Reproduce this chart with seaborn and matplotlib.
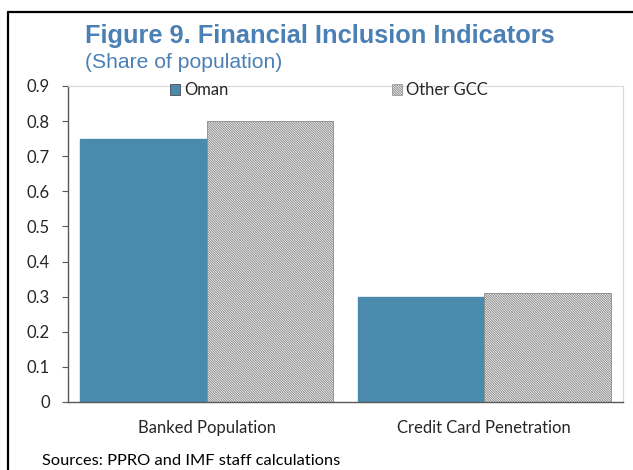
import matplotlib
matplotlib.use("Agg")
import matplotlib.pyplot as plt
import pandas as pd
import seaborn as sns
from matplotlib.lines import Line2D
from matplotlib.patches import Patch

categories = ["Banked Population", "Credit Card Penetration"]
series = ["Oman", "Other GCC"]
oman_values = [0.75, 0.30]
other_gcc_values = [0.80, 0.31]
y_ticks = [0, 0.1, 0.2, 0.3, 0.4, 0.5, 0.6, 0.7, 0.8, 0.9]

OMAN_COLOR = "#4A8BAD"
TITLE_COLOR = "#4A80B4"
HATCH = "\\" * 14

df = pd.DataFrame({
    "category": categories * 2,
    "series": [series[0]] * 2 + [series[1]] * 2,
    "value": oman_values + other_gcc_values,
})

sns.set_style("white")
plt.rcParams["font.family"] = ["Lato", "DejaVu Sans"]
plt.rcParams["hatch.color"] = "#909090"
plt.rcParams["hatch.linewidth"] = 0.7

fig = plt.figure(figsize=(6.33, 4.70), dpi=100)
ax = fig.add_axes([68 / 633, 68 / 470, 555 / 633, 316 / 470])

sns.barplot(
    data=df, x="category", y="value", hue="series",
    palette={"Oman": OMAN_COLOR, "Other GCC": "white"},
    width=0.91, saturation=1, ax=ax, legend=False,
)
for patch in ax.containers[1]:
    patch.set_hatch(HATCH)
    patch.set_edgecolor("#8a8a8a")
    patch.set_linewidth(0.6)
for patch in ax.containers[0]:
    patch.set_edgecolor(OMAN_COLOR)

ax.set_ylim(0, 0.9)
ax.set_xlim(-0.5, 1.5)
ax.set_yticks(y_ticks)
ax.set_yticklabels([f"{t:g}" for t in y_ticks], fontsize=12)
ax.set_xlabel("")
ax.set_ylabel("")
ax.tick_params(axis="x", which="major", length=0, labelsize=12, pad=13)
ax.set_xticks([-0.5, 0.5, 1.5], minor=True)
ax.tick_params(axis="x", which="minor", length=4, color="#595959", direction="out")
ax.tick_params(axis="y", length=4, color="#595959", direction="out", pad=9, left=True)

for side in ["top", "right"]:
    ax.spines[side].set_color("#d9d9d9")
    ax.spines[side].set_linewidth(0.8)
for side in ["left", "bottom"]:
    ax.spines[side].set_color("#595959")
    ax.spines[side].set_linewidth(1.0)

handles = [
    Patch(facecolor=OMAN_COLOR, edgecolor="#333333", linewidth=0.5, label="Oman"),
    Patch(facecolor="white", edgecolor="#8a8a8a", hatch=HATCH, linewidth=0.5, label="Other GCC"),
]
ax.legend(
    handles=handles, loc="upper left", bbox_to_anchor=(102 / 555, 1.012), ncol=2,
    frameon=False, fontsize=12, columnspacing=9.8, handlelength=0.6,
    handleheight=0.6, handletextpad=0.25, borderpad=0, borderaxespad=0,
)

fig.text(85 / 633, 1 - 36 / 470, "Figure 9. Financial Inclusion Indicators",
         fontsize=18.3, fontweight="bold", color=TITLE_COLOR,
         family=["Liberation Sans", "DejaVu Sans"], va="center")
fig.text(85 / 633, 1 - 62 / 470, "(Share of population)",
         fontsize=15.2, color=TITLE_COLOR,
         family=["Liberation Sans", "DejaVu Sans"], va="center")
fig.text(42 / 633, 1 - 461 / 470, "Sources: PPRO and IMF staff calculations",
         fontsize=11.8, color="black", va="center")

# outer frame of the figure box (top and left edges)
fig.add_artist(Line2D([8 / 633, 1.0], [1 - 12 / 470, 1 - 12 / 470],
                      transform=fig.transFigure, color="black", linewidth=1.6))
fig.add_artist(Line2D([8 / 633, 8 / 633], [0, 1 - 12 / 470],
                      transform=fig.transFigure, color="black", linewidth=1.6))

plt.savefig("out.png", dpi=100)
plt.close(fig)
